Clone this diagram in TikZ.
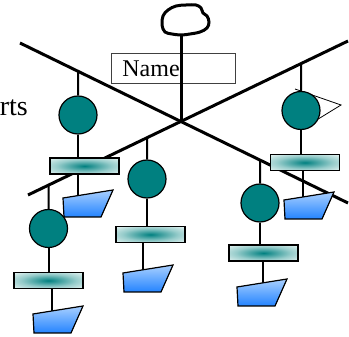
\documentclass[tikz,border=0pt]{standalone}
\usepackage{fontspec}
\setmainfont{Liberation Serif}
\usepackage{tikz}
\usetikzlibrary{arrows.meta, positioning, calc}

\definecolor{ballteal}{RGB}{0,128,128}
\definecolor{barpale}{RGB}{232,245,243}
\definecolor{trappale}{RGB}{236,246,255}
\definecolor{trapblue}{RGB}{8,116,255}

% Shadings for bars and weights
\pgfdeclareradialshading{barshade}{\pgfpoint{0bp}{0bp}}{color(0bp)=(ballteal);
  color(6bp)=(ballteal!80!barpale); color(20bp)=(ballteal!35!barpale);
  color(36bp)=(barpale); color(50bp)=(barpale)}
\pgfdeclareverticalshading{weightshade}{100bp}{color(0bp)=(trapblue);
  color(15bp)=(trapblue); color(100bp)=(trappale)}

\tikzset{
  beam/.style={line width=3pt},
  hang/.style={line width=2pt},
  ball/.style={circle, draw, line width=1.2pt, fill=ballteal, minimum size=38pt, inner sep=0pt},
  bar/.style={rectangle, draw, line width=1.2pt, minimum width=69pt, minimum height=16pt,
    inner sep=0pt, shading=barshade},
  weight/.style={draw, line width=1.2pt, shading=weightshade},
  namebox/.style={draw=black!75, line width=0.8pt, fill=white, minimum width=124pt, minimum height=30pt,
    inner xsep=11pt, text width=102pt, align=left, anchor=north west},
  bigtext/.style={font=\fontsize{24}{28}\selectfont}
}

\begin{document}
\begin{tikzpicture}[x=1pt, y=-1pt]
\useasboundingbox (0,0) rectangle (349,337);

% Crossing beams
\coordinate (a1) at (20,43);
\coordinate (a2) at (348,203);
\coordinate (b1) at (348,41);
\coordinate (b2) at (28,195);
\coordinate (hub) at (181,122);
\coordinate (top) at (181,35);
\draw[beam] (b1) -- (b2);
\draw[beam] (a1) -- (a2);

% Label box and clipped text
\node[namebox, bigtext] (name) at (111,53) {Name};
\node[font=\fontsize{28}{32}\selectfont, anchor=base east, inner sep=0pt] (parts) at (28,116) {rts};

% Stick and cloud
\draw[beam] (top) -- (hub);
\draw[line width=3pt, fill=white] plot[smooth cycle, tension=0.6] coordinates {
  (181,35) (172,34) (165,32) (162,25) (163,16) (168,10) (176,6) (186,5)
  (196,5) (201,8) (203,13) (207,16) (209,22) (207,28) (200,32) (190,34)};

% Cone behind the upper right ball
\draw[line width=0.8pt] (295,89) -- (341,105) -- (315,121);

% Hanging pieces: ball, bar, weight
\foreach \n/\bm/\cx/\cy/\rx/\ry/\tx/\ty/\p in {
  1/a/78/115/84.5/166/63/198/0.30,
  2/b/147/179/150.5/234.5/123/273/0.40,
  3/b/48.5/228.5/48.5/280.5/33/314/0.38,
  4/a/260/203/263.5/253/237/287/0.52,
  5/b/301/110.5/305/162.5/284/200/0.38} {
  \node[ball] (c\n) at (\cx,\cy) {};
  \node[bar] (r\n) at (\rx,\ry) {};
  \draw[hang] (intersection of c\n.north--c\n.south and \bm1--\bm2) -- (c\n.north);
  \draw[hang] (c\n.south) -- (c\n.south |- r\n.north);
  \coordinate (t\n) at (\tx,\ty);
  \path (t\n) -- +(50,-8) coordinate[pos=\p] (u\n);
  \draw[hang] (u\n |- r\n.south) -- (u\n);
  \filldraw[weight] (t\n) -- ++(50,-8) -- ++(-12,27) -- ++(-37,0) -- cycle;
}
\end{tikzpicture}
\end{document}
